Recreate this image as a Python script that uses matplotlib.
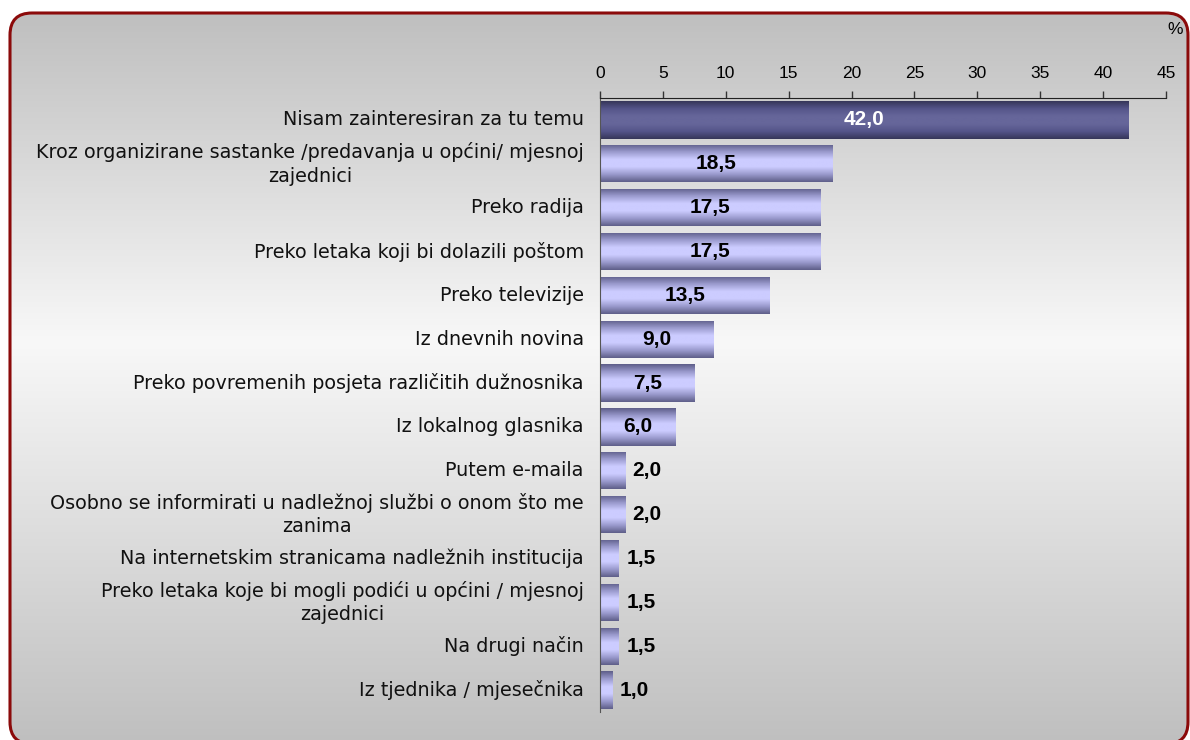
import matplotlib
matplotlib.use("Agg")
import matplotlib.pyplot as plt
import numpy as np
from matplotlib.colors import LinearSegmentedColormap
from matplotlib.patches import FancyBboxPatch

plt.rcParams["font.family"] = ["Liberation Sans", "DejaVu Sans"]

CATEGORIES = [
    "Nisam zainteresiran za tu temu",
    "Kroz organizirane sastanke /predavanja u općini/ mjesnoj\nzajednici",
    "Preko radija",
    "Preko letaka koji bi dolazili poštom",
    "Preko televizije",
    "Iz dnevnih novina",
    "Preko povremenih posjeta različitih dužnosnika",
    "Iz lokalnog glasnika",
    "Putem e-maila",
    "Osobno se informirati u nadležnoj službi o onom što me\nzanima",
    "Na internetskim stranicama nadležnih institucija",
    "Preko letaka koje bi mogli podići u općini / mjesnoj\nzajednici",
    "Na drugi način",
    "Iz tjednika / mjesečnika",
]
VALUES = [42.0, 18.5, 17.5, 17.5, 13.5, 9.0, 7.5, 6.0, 2.0, 2.0, 1.5, 1.5, 1.5, 1.0]
XTICKS = [0, 5, 10, 15, 20, 25, 30, 35, 40, 45]

W, H = 1190, 740
fig = plt.figure(figsize=(W / 100, H / 100), dpi=100)

# background panel with vertical gradient and rounded dark-red border
bg = fig.add_axes([0, 0, 1, 1], zorder=-10)
bg.set_xlim(0, W)
bg.set_ylim(0, H)
bg.axis("off")
bg_cmap = LinearSegmentedColormap.from_list(
    "bg", [(0, "#bfbfbf"), (0.45, "#f8f8f8"), (1, "#bfbfbf")])
grad = np.linspace(0, 1, 256).reshape(-1, 1)
box = FancyBboxPatch((10, -4), 1178, H - 13 + 4, boxstyle="round,pad=0,rounding_size=22",
                     facecolor="none", edgecolor="#8b0a0a", linewidth=2.2, clip_on=False)
bg.add_patch(box)
im = bg.imshow(grad, cmap=bg_cmap, extent=[10, 1188, -4, H - 13], aspect="auto")
im.set_clip_path(box)

# main axes
ax = fig.add_axes([600 / W, 1 - 712 / H, 566 / W, (712 - 98) / H])
ax.set_facecolor("none")
y = np.arange(len(CATEGORIES))
bar_h = 0.85
bars = ax.barh(y, VALUES, height=bar_h, color="none", edgecolor="none")

light = LinearSegmentedColormap.from_list(
    "light", ["#5f5f8a", "#9a9acd", "#ccccff", "#ccccff", "#9a9acd", "#5f5f8a"])
dark = LinearSegmentedColormap.from_list(
    "dark", ["#36365a", "#55558a", "#66669a", "#66669a", "#55558a", "#36365a"])
bgrad = np.linspace(0, 1, 100).reshape(-1, 1)
for i, (b, v) in enumerate(zip(bars, VALUES)):
    cm = dark if i == 0 else light
    g = ax.imshow(bgrad, cmap=cm, extent=[0, v, i + bar_h / 2, i - bar_h / 2],
                  aspect="auto", zorder=2)
    g.set_clip_path(b)

ax.set_xlim(0, 45)
ax.set_ylim(len(CATEGORIES) - 0.5, -0.5)
ax.xaxis.tick_top()
ax.set_xticks(XTICKS)
ax.set_xticklabels([str(t) for t in XTICKS], fontsize=12.5)
ax.tick_params(axis="x", direction="out", length=5, width=1, pad=7, color="#333333")
ax.set_yticks([])
for s in ["right", "bottom"]:
    ax.spines[s].set_visible(False)
ax.spines["top"].set_color("#222222")
ax.spines["left"].set_color("#555555")

for i, lab in enumerate(CATEGORIES):
    ax.text(-1.3, i, lab, ha="right", va="center", multialignment="center",
            fontsize=13.8, color="#111111", family="DejaVu Sans", linespacing=1.3)

for i, v in enumerate(VALUES):
    txt = f"{v:.1f}".replace(".", ",")
    color = "white" if i == 0 else "black"
    if v >= 5:
        ax.text(v / 2, i, txt, ha="center", va="center", fontsize=15,
                fontweight="bold", color=color, zorder=3)
    else:
        ax.text(v + 0.6, i, txt, ha="left", va="center", fontsize=15,
                fontweight="bold", color=color, zorder=3)

fig.text(1175 / W, 1 - 30 / H, "%", ha="center", va="center", fontsize=12.5)

fig.savefig("out.png", dpi=100)
